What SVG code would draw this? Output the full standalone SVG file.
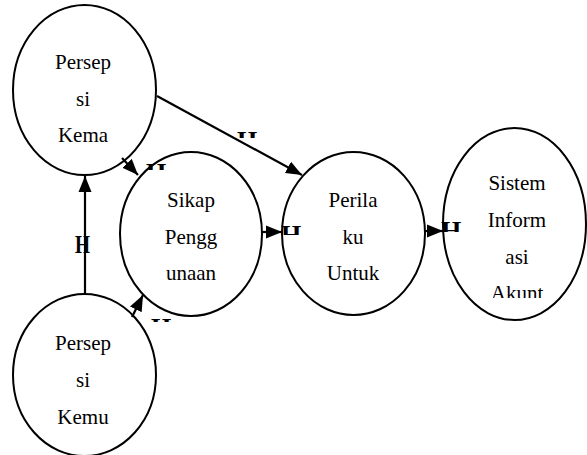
<svg xmlns="http://www.w3.org/2000/svg" width="587" height="455" viewBox="0 0 587 455">
<style>
.node ellipse{fill:#fff;stroke:#000;stroke-width:2}
.t{font-family:'Liberation Serif','Times New Roman',serif;font-size:21px;fill:#000;text-anchor:middle}
.conn line{stroke:#000;stroke-width:2.2}
.lbl{font-family:'Liberation Serif','Times New Roman',serif;font-weight:bold;font-size:26px;fill:#000}
</style>
<defs>
<marker id="ah" markerUnits="userSpaceOnUse" markerWidth="17" markerHeight="14" refX="16" refY="7" orient="auto">
<path d="M0,0.5 L16,7 L0,13.5 z" fill="#000"/>
</marker>
<clipPath id="c1"><rect x="230" y="125" width="40" height="13"/></clipPath>
<clipPath id="c2"><rect x="140" y="160" width="28" height="10"/></clipPath>
<clipPath id="c3"><rect x="280" y="220" width="30" height="15"/></clipPath>
<clipPath id="c4"><rect x="440" y="218" width="30" height="14"/></clipPath>
<clipPath id="c6"><rect x="145" y="315" width="35" height="7"/></clipPath>
<clipPath id="cA"><rect x="440" y="128" width="147" height="170"/></clipPath>
</defs>
<g id="n1" class="node" font-family="Liberation Serif, serif">
<ellipse cx="84.5" cy="90" rx="71.5" ry="85"/>
<text class="t" x="83" y="69">Persep</text>
<text class="t" x="83" y="106">si</text>
<text class="t" x="83" y="142">Kema</text>
</g>
<g id="n2" class="node" font-family="Liberation Serif, serif">
<ellipse cx="191" cy="234" rx="71" ry="82"/>
<text class="t" x="191" y="207">Sikap</text>
<text class="t" x="191" y="244">Pengg</text>
<text class="t" x="191" y="280">unaan</text>
</g>
<g id="n3" class="node" font-family="Liberation Serif, serif">
<ellipse cx="353.5" cy="233.5" rx="71.5" ry="81.5"/>
<text class="t" x="353" y="207">Perila</text>
<text class="t" x="353" y="244">ku</text>
<text class="t" x="353" y="280">Untuk</text>
</g>
<g id="n4" class="node" font-family="Liberation Serif, serif">
<ellipse cx="514.5" cy="224" rx="71.5" ry="96"/>
<text class="t" x="517" y="190">Sistem</text>
<text class="t" x="517" y="227">Inform</text>
<text class="t" x="517" y="264">asi</text>
<text class="t" x="517" y="300" clip-path="url(#cA)">Akunt</text>
</g>
<g id="n5" class="node" font-family="Liberation Serif, serif">
<ellipse cx="84.5" cy="375" rx="71.5" ry="81"/>
<text class="t" x="83" y="350">Persep</text>
<text class="t" x="83" y="387">si</text>
<text class="t" x="83" y="424">Kemu</text>
</g>
<g id="connectors" class="conn">
<line x1="157" y1="96" x2="302" y2="175" marker-end="url(#ah)"/>
<line x1="122" y1="158" x2="138" y2="175" marker-end="url(#ah)"/>
<line x1="85" y1="294" x2="85" y2="176" marker-end="url(#ah)"/>
<line x1="132" y1="317" x2="143" y2="295" marker-end="url(#ah)"/>
<line x1="262" y1="232" x2="282" y2="232" marker-end="url(#ah)"/>
<line x1="425" y1="231" x2="443" y2="231" marker-end="url(#ah)"/>
</g>
<g id="labels" font-family="Liberation Serif, serif">
<text class="lbl" x="237" y="149" clip-path="url(#c1)">H</text>
<text class="lbl" x="146" y="181" clip-path="url(#c2)">H</text>
<text class="lbl" x="281" y="243" clip-path="url(#c3)">H</text>
<text class="lbl" x="441" y="239" clip-path="url(#c4)">H</text>
<text class="lbl" x="151" y="336" clip-path="url(#c6)">H</text>
<text x="75" y="253" font-family="Liberation Serif, serif" font-weight="bold" font-size="25" textLength="15" lengthAdjust="spacingAndGlyphs">H</text>
</g>
</svg>
